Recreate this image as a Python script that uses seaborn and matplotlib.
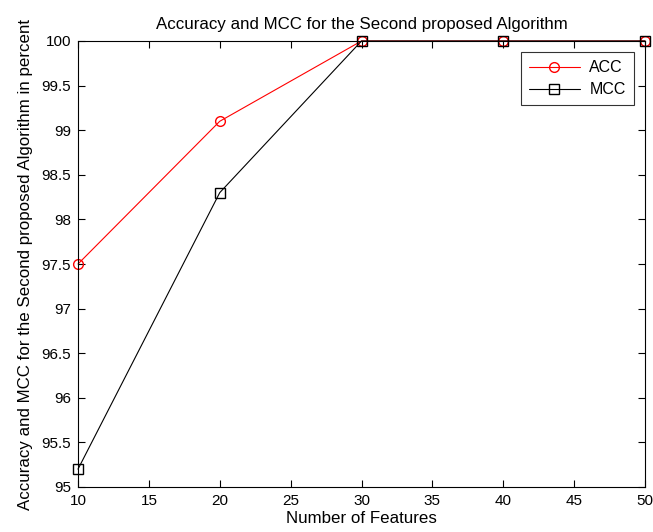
import matplotlib
matplotlib.use("Agg")
import matplotlib.pyplot as plt
import seaborn as sns
import pandas as pd

features = [10, 20, 30, 40, 50]
acc = [97.5, 99.1, 100, 100, 100]
mcc = [95.2, 98.3, 100, 100, 100]
x_ticks = [10, 15, 20, 25, 30, 35, 40, 45, 50]
y_ticks = [95, 95.5, 96, 96.5, 97, 97.5, 98, 98.5, 99, 99.5, 100]
y_labels = ["95", "95.5", "96", "96.5", "97", "97.5", "98", "98.5", "99", "99.5", "100"]

sns.set_theme(style="ticks")
plt.rcParams['font.family'] = ['Liberation Sans', 'DejaVu Sans']
plt.rcParams['font.size'] = 9
plt.rcParams['text.color'] = 'black'
plt.rcParams['axes.labelcolor'] = 'black'
plt.rcParams['axes.titlecolor'] = 'black'

fig = plt.figure(figsize=(6.53, 5.32), dpi=100)
ax = fig.add_axes([78 / 653, 1 - 487 / 532, (645 - 78) / 653, (487 - 41) / 532])

df = pd.DataFrame({"Features": features, "ACC": acc, "MCC": mcc})
sns.lineplot(data=df, x="Features", y="ACC", ax=ax, color="red", marker="o",
             markersize=7, markerfacecolor="none", markeredgecolor="red",
             markeredgewidth=1, linewidth=0.8, label="ACC", clip_on=False)
sns.lineplot(data=df, x="Features", y="MCC", ax=ax, color="black", marker="s",
             markersize=7, markerfacecolor="none", markeredgecolor="black",
             markeredgewidth=1, linewidth=0.8, label="MCC", clip_on=False)

ax.set_xlim(10, 50)
ax.set_ylim(95, 100)
ax.set_xticks(x_ticks)
ax.set_yticks(y_ticks)
ax.set_yticklabels(y_labels)
ax.tick_params(direction="in", top=True, right=True, length=5, width=0.8,
               labelsize=11, pad=5, colors="black")
for s in ax.spines.values():
    s.set_linewidth(0.8)
    s.set_color("black")

ax.set_title("Accuracy and MCC for the Second proposed Algorithm", fontsize=12.2, pad=9, color="black")
ax.set_xlabel("Number of Features", fontsize=12.2, labelpad=2, color="black")
ax.set_ylabel("Accuracy and MCC for the Second proposed Algorithm in percent", fontsize=12.2, labelpad=6, color="black")

leg = ax.legend(loc="upper right", fontsize=11.5, frameon=True, fancybox=False,
                edgecolor="black", handlelength=3.2, borderaxespad=0.7,
                labelspacing=0.45, borderpad=0.5, handletextpad=0.6)
leg.get_frame().set_linewidth(0.8)
for t in leg.get_texts():
    t.set_color("black")

fig.savefig("out.png", dpi=100)
